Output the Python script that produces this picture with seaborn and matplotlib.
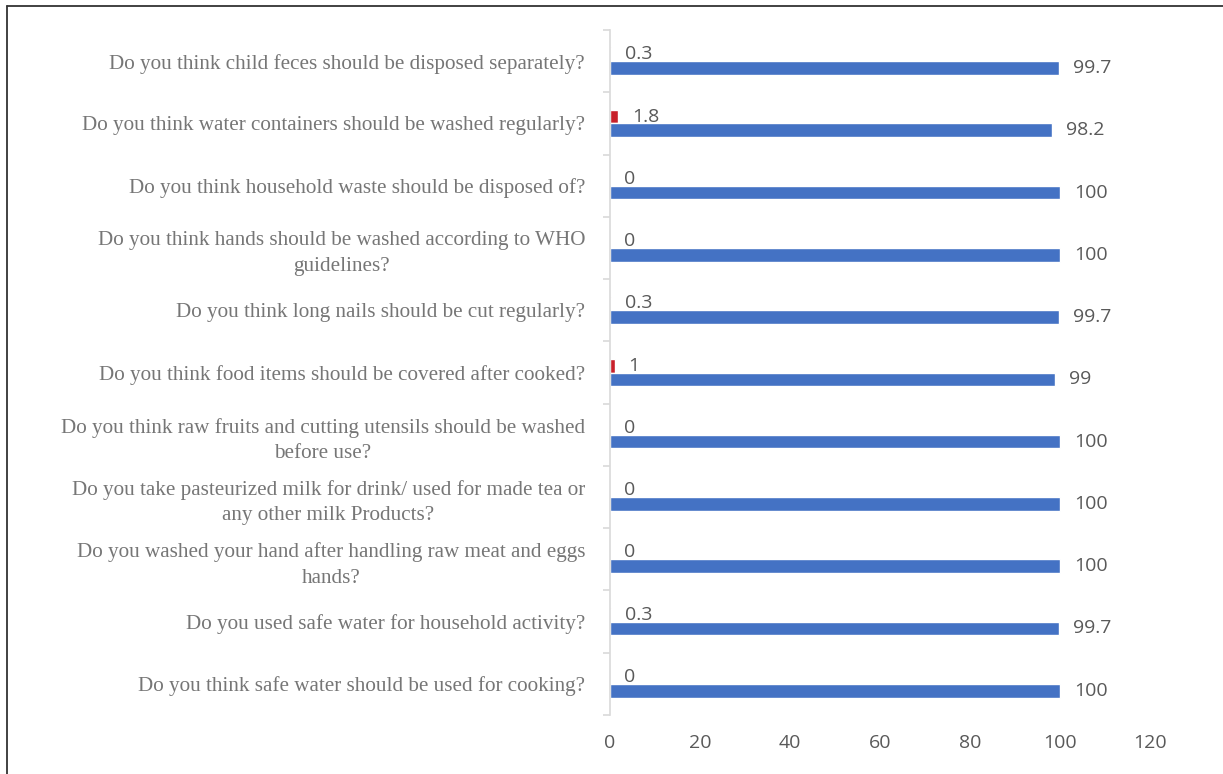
import pandas as pd
import matplotlib.pyplot as plt
import seaborn as sns
from matplotlib.ticker import FixedLocator

# Questions, top to bottom
questions = [
    "Do you think child feces should be disposed separately?",
    "Do you think water containers should be washed regularly?",
    "Do you think household waste should be disposed of?",
    "Do you think hands should be washed according to WHO\nguidelines?",
    "Do you think long nails should be cut regularly?",
    "Do you think food items should be covered after cooked?",
    "Do you think raw fruits and cutting utensils should be washed\nbefore use?",
    "Do you take pasteurized milk for drink/ used for made tea or\nany other milk Products?",
    "Do you washed your hand after handling raw meat and eggs\nhands?",
    "Do you used safe water for household activity?",
    "Do you think safe water should be used for cooking?",
]
yes_pct = [99.7, 98.2, 100, 100, 99.7, 99, 100, 100, 100, 99.7, 100]
no_pct = [0.3, 1.8, 0, 0, 0.3, 1, 0, 0, 0, 0.3, 0]
value_labels_no = ["0.3", "1.8", "0", "0", "0.3", "1", "0", "0", "0", "0.3", "0"]
value_labels_yes = ["99.7", "98.2", "100", "100", "99.7", "99", "100", "100", "100", "99.7", "100"]

df = pd.DataFrame({
    "question": questions * 2,
    "answer": ["No"] * len(questions) + ["Yes"] * len(questions),
    "pct": no_pct + yes_pct,
})

sns.set_style("white")

fig = plt.figure(figsize=(12.23, 7.74), dpi=100)
ax = fig.add_axes([0.4988, 0.0762, 0.4415, 0.885])

sns.barplot(data=df, y="question", x="pct", hue="answer", hue_order=["No", "Yes"],
            order=questions, palette={"No": "#C8202A", "Yes": "#4472C4"},
            saturation=1, orient="h", width=0.44, gap=0, legend=False, ax=ax)

for cont, labs in zip(ax.containers, [value_labels_no, value_labels_yes]):
    ax.bar_label(cont, labels=labs, padding=10, fontsize=14, color="#595959",
                 family="Open Sans")

ax.set_xlim(0, 120)
ax.set_ylim(len(questions) - 0.5, -0.5)
ax.set_xticks(range(0, 121, 20))
ax.set_xlabel("")
ax.set_ylabel("")

for s in ["top", "right", "bottom"]:
    ax.spines[s].set_visible(False)
ax.spines["left"].set_color("#D9D9D9")
ax.spines["left"].set_linewidth(1.2)

ax.tick_params(axis="x", length=0, pad=14, labelsize=14, labelcolor="#595959")
for t in ax.get_xticklabels():
    t.set_family("Open Sans")
ax.tick_params(axis="y", which="major", length=0, pad=18, labelsize=15.2, labelcolor="#767676")
for t in ax.get_yticklabels():
    t.set_family("Liberation Serif")
    t.set_multialignment("center")
    t.set_linespacing(1.45)
ax.yaxis.set_minor_locator(FixedLocator([i - 0.5 for i in range(len(questions) + 1)]))
ax.tick_params(axis="y", which="minor", length=5, width=1.2, color="#D9D9D9", left=True)

# Frame lines around figure (top and left)
fig.add_artist(plt.Line2D([0.0057, 1.0], [0.9922, 0.9922], color="#333333", lw=1.3,
                          transform=fig.transFigure))
fig.add_artist(plt.Line2D([0.0057, 0.0057], [0.0, 0.9922], color="#333333", lw=1.3,
                          transform=fig.transFigure))

fig.savefig("out.png", dpi=100)
